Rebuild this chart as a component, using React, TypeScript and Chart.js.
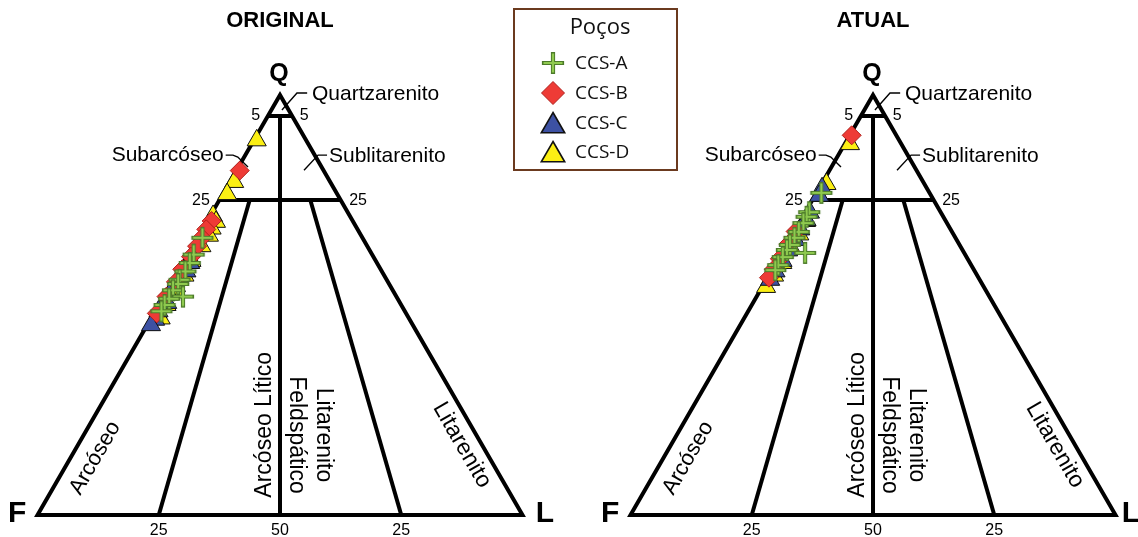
import React, { useEffect, useRef } from "react";
import { Chart, registerables } from "chart.js";

Chart.register(...registerables);

// ---- Canvas / ternary geometry --------------------------------------------
const CANVAS_W = 1138;
const CANVAS_H = 537;
const PX_PER_UNIT = 4.85; // a side of 100 units spans 485 px
const FIRST_F_PX = 37.5; // pixel x of the first panel's F corner
const BASE_PX = 515; // pixel y of the F–L base
const PANEL_GAP = 122.27; // distance (units) between the two F corners
const H = Math.sqrt(3) / 2;

// ---- Samples: [Q, F, L] in percent ----------------------------------------
const WELLS = ["CCS-A", "CCS-B", "CCS-C", "CCS-D"];
const PANEL_TITLES = ["ORIGINAL", "ATUAL"];

const originalA: number[][] = [
  [66, 33, 1.0], [62, 36.8, 1.2], [60, 38.6, 1.4], [58, 40.5, 1.5], [56, 42.7, 1.3],
  [55, 43.5, 1.5], [53.5, 45.3, 1.2], [52, 44, 4.0], [51.5, 47.1, 1.4], [50, 48.8, 1.2],
  [48.5, 50.2, 1.3],
];
const originalB: number[][] = [
  [82, 17.3, 0.7], [70, 29.1, 0.9], [68, 31.2, 0.8], [66, 33.1, 0.9], [64, 35.1, 0.9],
  [61.5, 37.6, 0.9], [58.5, 40.9, 0.6], [55.5, 43.7, 0.8], [52, 47.4, 0.6], [48, 51.4, 0.6],
];
const originalC: number[][] = [
  [60, 38.5, 1.5], [58, 40.3, 1.7], [56.5, 42.5, 1.0], [54.5, 44.2, 1.3], [52.5, 46.6, 0.9],
  [50.5, 48.0, 1.5], [48.5, 50.8, 0.7], [46.5, 52.5, 1.0], [45.2, 54.0, 0.8],
];
const originalD: number[][] = [
  [89.2, 10.2, 0.6], [79.3, 19.8, 0.9], [76.4, 22.7, 0.9], [71.2, 28.2, 0.6], [69.8, 28.3, 1.9],
  [68.2, 30.0, 1.8], [66.5, 31.4, 2.1], [64.0, 34.2, 1.8], [60.5, 38.0, 1.5], [57.0, 41.2, 1.8],
  [53.5, 44.8, 1.7], [50.0, 48.4, 1.6], [46.8, 51.2, 2.0],
];

const currentA: number[][] = [
  [76.7, 22.3, 1.0], [72.1, 27.1, 0.8], [71.0, 28.2, 0.8], [69.5, 29.6, 0.9], [67.4, 31.6, 1.0],
  [66.0, 33.2, 0.8], [64.3, 35.0, 0.7], [63.1, 36.2, 0.7], [61.4, 37.9, 0.7], [62.4, 32.8, 4.8],
  [59.5, 39.8, 0.7], [58.3, 41.0, 0.7],
];
const currentB: number[][] = [
  [90.4, 9.2, 0.4], [67.5, 32.2, 0.3], [64.5, 35.2, 0.3], [61.0, 38.7, 0.3], [58.5, 41.2, 0.3],
  [56.5, 43.2, 0.3],
];
const currentC: number[][] = [
  [77.8, 21.6, 0.6], [76.0, 23.1, 0.9], [72.0, 27.0, 1.0], [70.2, 28.6, 1.2], [68.0, 31.0, 1.0],
  [65.5, 33.3, 1.2], [63.0, 36.0, 1.0], [60.5, 38.4, 1.1], [58.0, 41.1, 0.9], [56.0, 43.2, 0.8],
];
const currentD: number[][] = [
  [88.3, 10.6, 1.1], [78.8, 20.2, 1.0], [70.0, 28.8, 1.2], [66.8, 31.8, 1.4], [63.5, 35.1, 1.4],
  [60.0, 38.7, 1.3], [57.0, 41.9, 1.1], [54.3, 44.9, 0.8],
];

const PANEL_SAMPLES = [
  [originalA, originalB, originalC, originalD],
  [currentA, currentB, currentC, currentD],
];

// Folk field boundaries, as [Q, F, L] end points
const BOUNDARIES: number[][][] = [
  [[95, 5, 0], [95, 0, 5]],
  [[75, 25, 0], [75, 0, 25]],
  [[95, 2.5, 2.5], [0, 50, 50]],
  [[75, 18.75, 6.25], [0, 75, 25]],
  [[75, 6.25, 18.75], [0, 25, 75]],
];

// ---- Styling ---------------------------------------------------------------
const LABEL_FONT = "'Liberation Sans', Arial, sans-serif";
const LEGEND_FONT = "'Open Sans', 'Liberation Sans', sans-serif";
const GREEN_DARK = "#4c7a2a";
const GREEN_LIGHT = "#8fca4f";
const RED = "#ee3b36";
const BLUE = "#3d51a3";
const YELLOW = "#fbef14";

// Annotation text in panel-local units (x along base from F, y up from base)
type TextItem = {
  lines: string[];
  x: number;
  y: number;
  font: string;
  align?: CanvasTextAlign;
  rot?: number;
  gap?: number;
  panel?: number;
};
const TEXTS: TextItem[] = [
  { lines: ["Q"], x: 49.8, y: 90.9, font: `bold 25px ${LABEL_FONT}` },
  { lines: ["F"], x: -4.2, y: 0.2, font: `bold 30px ${LABEL_FONT}` },
  { lines: ["L"], x: 104.6, y: 0.2, font: `bold 30px ${LABEL_FONT}`, panel: 0 },
  { lines: ["L"], x: 103.2, y: 0.2, font: `bold 30px ${LABEL_FONT}`, panel: 1 },
  { lines: ["5"], x: 45.0, y: 82.3, font: `16px ${LABEL_FONT}` },
  { lines: ["5"], x: 55.0, y: 82.3, font: `16px ${LABEL_FONT}` },
  { lines: ["25"], x: 33.7, y: 64.9, font: `16px ${LABEL_FONT}` },
  { lines: ["25"], x: 66.1, y: 64.9, font: `16px ${LABEL_FONT}` },
  { lines: ["25"], x: 25.0, y: -3.3, font: `16px ${LABEL_FONT}` },
  { lines: ["50"], x: 50.0, y: -3.3, font: `16px ${LABEL_FONT}` },
  { lines: ["25"], x: 75.0, y: -3.3, font: `16px ${LABEL_FONT}` },
  { lines: ["Quartzarenito"], x: 56.6, y: 86.8, font: `21px ${LABEL_FONT}`, align: "left" },
  { lines: ["Sublitarenito"], x: 60.1, y: 74.0, font: `21px ${LABEL_FONT}`, align: "left" },
  { lines: ["Subarcóseo"], x: 38.4, y: 74.2, font: `21px ${LABEL_FONT}`, align: "right" },
  { lines: ["Arcóseo"], x: 11.9, y: 11.75, font: `22px ${LABEL_FONT}`, rot: -60 },
  { lines: ["Arcóseo Lítico"], x: 46.9, y: 18.6, font: `23px ${LABEL_FONT}`, rot: -90 },
  { lines: ["Litarenito", "Feldspático"], x: 56.2, y: 16.5, font: `23px ${LABEL_FONT}`, rot: 90, gap: 27 },
  { lines: ["Litarenito"], x: 87.5, y: 14.4, font: `23px ${LABEL_FONT}`, rot: 60 },
];

// Leader lines for the small fields near the Q apex (panel-local units)
const LEADERS: number[][][] = [
  [[50.4, 83.5], [53.5, 87.0], [55.6, 87.0]],
  [[54.95, 71.1], [57.85, 74.2], [59.7, 74.2]],
  [[38.8, 74.2], [40.3, 74.2], [41.3, 73.8], [43.4, 71.75]],
];

// Legend box (pixels)
const LEGEND_BOX = { left: 514, top: 9, right: 677, bottom: 170 };
const LEGEND_ROWS = [63, 93, 123, 152];

// ---- Helpers ---------------------------------------------------------------
const toLocal = (q: number, l: number) => ({ x: l + q / 2, y: q * H });
const toPoint = (s: number[], offset: number) => {
  const p = toLocal(s[0], s[2]);
  return { x: offset + p.x, y: p.y };
};

function crossImage(arm: number): HTMLCanvasElement {
  const size = arm * 2 + 6;
  const c = document.createElement("canvas");
  c.width = size;
  c.height = size;
  const g = c.getContext("2d")!;
  const m = size / 2;
  const path = (a: number) => {
    g.beginPath();
    g.moveTo(m - a, m);
    g.lineTo(m + a, m);
    g.moveTo(m, m - a);
    g.lineTo(m, m + a);
    g.stroke();
  };
  g.lineCap = "square";
  g.strokeStyle = GREEN_DARK;
  g.lineWidth = 4.2;
  path(arm - 1);
  g.lineCap = "butt";
  g.strokeStyle = GREEN_LIGHT;
  g.lineWidth = 2.2;
  path(arm - 0.5);
  return c;
}

function drawMarker(ctx: CanvasRenderingContext2D, kind: number, x: number, y: number) {
  ctx.save();
  if (kind === 0) {
    const img = crossImage(10);
    ctx.drawImage(img, x - img.width / 2, y - img.height / 2);
  } else if (kind === 1) {
    const r = 11.5;
    ctx.beginPath();
    ctx.moveTo(x - r, y);
    ctx.lineTo(x, y - r);
    ctx.lineTo(x + r, y);
    ctx.lineTo(x, y + r);
    ctx.closePath();
    ctx.fillStyle = RED;
    ctx.fill();
    ctx.lineWidth = 1;
    ctx.strokeStyle = "#b0201c";
    ctx.stroke();
  } else {
    const r = 13.5;
    ctx.beginPath();
    for (let i = 0; i < 3; i++) {
      const a = (i * 2 * Math.PI) / 3;
      const px = x + Math.sin(a) * r;
      const py = y + 3 - Math.cos(a) * r;
      if (i === 0) ctx.moveTo(px, py);
      else ctx.lineTo(px, py);
    }
    ctx.closePath();
    ctx.fillStyle = kind === 2 ? BLUE : YELLOW;
    ctx.fill();
    ctx.lineWidth = 1.6;
    ctx.strokeStyle = "#111";
    ctx.stroke();
  }
  ctx.restore();
}

const annotationPlugin = {
  id: "ternaryAnnotations",
  afterDatasetsDraw(chart: any) {
    const ctx: CanvasRenderingContext2D = chart.ctx;
    const xs = chart.scales.x;
    const ys = chart.scales.y;
    const px = (v: number) => xs.getPixelForValue(v);
    const py = (v: number) => ys.getPixelForValue(v);

    ctx.save();
    ctx.fillStyle = "#000";
    ctx.textBaseline = "middle";
    PANEL_TITLES.forEach((title, p) => {
      const off = p * PANEL_GAP;
      ctx.font = `bold 22px ${LABEL_FONT}`;
      ctx.textAlign = "center";
      ctx.fillText(title, px(off + 50), py(101.8));

      TEXTS.forEach((t) => {
        if (t.panel !== undefined && t.panel !== p) return;
        ctx.save();
        ctx.font = t.font;
        ctx.textAlign = t.align || "center";
        ctx.translate(px(off + t.x), py(t.y));
        if (t.rot) ctx.rotate((t.rot * Math.PI) / 180);
        const gap = t.gap || 0;
        const first = -((t.lines.length - 1) * gap) / 2;
        t.lines.forEach((line, i) => ctx.fillText(line, 0, first + i * gap));
        ctx.restore();
      });

      ctx.lineWidth = 1.4;
      ctx.strokeStyle = "#000";
      LEADERS.forEach((pts) => {
        ctx.beginPath();
        pts.forEach((pt, i) => {
          const X = px(off + pt[0]);
          const Y = py(pt[1]);
          if (i === 0) ctx.moveTo(X, Y);
          else ctx.lineTo(X, Y);
        });
        ctx.stroke();
      });
    });

    // Legend
    const b = LEGEND_BOX;
    ctx.fillStyle = "#fff";
    ctx.fillRect(b.left, b.top, b.right - b.left, b.bottom - b.top);
    ctx.strokeStyle = "#6b3a1f";
    ctx.lineWidth = 2;
    ctx.strokeRect(b.left, b.top, b.right - b.left, b.bottom - b.top);
    ctx.fillStyle = "#111";
    ctx.textAlign = "center";
    ctx.font = `22px ${LEGEND_FONT}`;
    ctx.fillText("Poços", 600, 28);
    ctx.textAlign = "left";
    ctx.font = `19px ${LEGEND_FONT}`;
    WELLS.forEach((w, i) => {
      drawMarker(ctx, i, 553, LEGEND_ROWS[i]);
      ctx.fillStyle = "#111";
      ctx.fillText(w, 575, LEGEND_ROWS[i] + 1);
    });
    ctx.restore();
  },
};

export default function App() {
  const canvasRef = useRef<HTMLCanvasElement | null>(null);

  useEffect(() => {
    const canvas = canvasRef.current;
    if (!canvas) return;

    const datasets: any[] = [];
    [0, PANEL_GAP].forEach((off) => {
      const c = (s: number[]) => toPoint(s, off);
      datasets.push({
        label: "frame",
        data: [c([0, 100, 0]), c([0, 0, 100]), c([100, 0, 0]), c([0, 100, 0]), c([0, 0, 100])],
        showLine: true,
        borderColor: "#000",
        borderWidth: 4,
        borderJoinStyle: "miter",
        borderCapStyle: "butt",
        pointRadius: 0,
        pointHoverRadius: 0,
        order: 10,
      });
      BOUNDARIES.forEach((seg) => {
        datasets.push({
          label: "boundary",
          data: seg.map(c),
          showLine: true,
          borderColor: "#000",
          borderWidth: 4,
          borderCapStyle: "butt",
          pointRadius: 0,
          pointHoverRadius: 0,
          order: 10,
        });
      });
    });

    const cross = crossImage(10);
    PANEL_SAMPLES.forEach((wells, p) => {
      const off = p * PANEL_GAP;
      wells.forEach((samples, w) => {
        const base: any = {
          label: WELLS[w],
          data: samples.map((s) => toPoint(s, off)),
          order: w + 1,
        };
        if (w === 0) {
          Object.assign(base, { pointStyle: cross, pointRadius: 10, pointHoverRadius: 10 });
        } else if (w === 1) {
          Object.assign(base, {
            pointStyle: "rectRot",
            pointRadius: 9.5,
            pointHoverRadius: 9.5,
            backgroundColor: RED,
            borderColor: "#b0201c",
            borderWidth: 1,
            pointHoverBorderWidth: 1,
          });
        } else {
          Object.assign(base, {
            pointStyle: "triangle",
            pointRadius: 11,
            pointHoverRadius: 11,
            backgroundColor: w === 2 ? BLUE : YELLOW,
            borderColor: "#111",
            borderWidth: 1,
            pointHoverBorderWidth: 1,
          });
        }
        datasets.push(base);
      });
    });

    const chart = new Chart(canvas, {
      type: "scatter",
      data: { datasets },
      options: {
        responsive: false,
        animation: false,
        events: [],
        layout: { padding: 0, autoPadding: false },
        plugins: { legend: { display: false }, tooltip: { enabled: false } },
        scales: {
          x: {
            type: "linear",
            display: false,
            min: -FIRST_F_PX / PX_PER_UNIT,
            max: (CANVAS_W - FIRST_F_PX) / PX_PER_UNIT,
          },
          y: {
            type: "linear",
            display: false,
            min: -(CANVAS_H - BASE_PX) / PX_PER_UNIT,
            max: BASE_PX / PX_PER_UNIT,
          },
        },
      },
      plugins: [annotationPlugin],
    });
    return () => chart.destroy();
  }, []);

  return (
    <canvas
      ref={canvasRef}
      width={CANVAS_W}
      height={CANVAS_H}
      style={{ display: "block", position: "fixed", left: 0, top: 0, background: "#fff" }}
    />
  );
}
